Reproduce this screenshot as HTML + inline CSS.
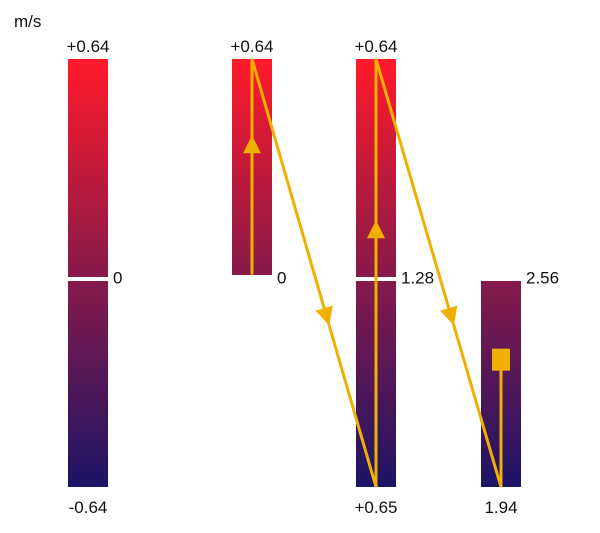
<!DOCTYPE html>
<html><head><meta charset="utf-8"><style>
html,body{margin:0;padding:0;background:#fff;width:600px;height:533px;overflow:hidden}
text{font-family:"Liberation Sans",sans-serif;font-size:17px;fill:#111}
</style></head><body>
<svg id="c" width="600" height="533">
<defs>
<linearGradient id="gTop" x1="0" y1="0" x2="0" y2="1"><stop offset="0" stop-color="#ff1a2a"/><stop offset="1" stop-color="#861a4a"/></linearGradient>
<linearGradient id="gBot" x1="0" y1="0" x2="0" y2="1"><stop offset="0" stop-color="#861a4a"/><stop offset="1" stop-color="#1c1466"/></linearGradient>
</defs>
<text x="14" y="27">m/s</text>
</svg>
<script>
// data
const barX = [88, 252, 376, 501];
const barTopVal = [0.64, 0.64, 0.64, 0];
const barBotVal = [-0.64, 0, -0.64, -0.64];
const topLabels = ["+0.64", "+0.64", "+0.64", ""];
const midLabels = ["0", "0", "1.28", "2.56"];
const botLabels = ["-0.64", "", "+0.65", "1.94"];
const pathBar = [1, 1, 2, 2, 3, 3];
const pathVal = [0.01, 0.64, -0.64, 0.64, -0.64, -0.25];

const svg = document.getElementById('c');
const NS = 'http://www.w3.org/2000/svg';
function y(v){ return v >= 0 ? 278 - v/0.64*219 : 278 - v/0.64*209; }
function mk(t, a){ const e = document.createElementNS(NS, t); for (const k in a) e.setAttribute(k, a[k]); svg.appendChild(e); return e; }
const W = 40;
barX.forEach((cx, i) => {
  const t = barTopVal[i], b = barBotVal[i];
  if (t > 0) {
    const r = mk('rect', {x: cx-W/2, y: y(t), width: W, height: y(0)-y(t) - (b < 0 ? 1 : 3), fill: 'url(#gTop)'});
    
    
  }
  if (b < 0) {
    const r = mk('rect', {x: cx-W/2, y: y(0)+3, width: W, height: y(b)-y(0)-3, fill: 'url(#gBot)'});
    
    
  }
  if (topLabels[i]) {
    const tx = mk('text', {x: cx, y: y(t)-7, 'text-anchor': 'middle'}); tx.textContent = topLabels[i];
    
    
  }
  const m = mk('text', {x: cx+W/2+5, y: y(0)+1, 'dominant-baseline': 'middle'}); m.textContent = midLabels[i];
  
  
  if (botLabels[i]) {
    const bt = mk('text', {x: cx, y: y(b)+26, 'text-anchor': 'middle'}); bt.textContent = botLabels[i];
    
    
  }
});
const C = '#f0b000';
for (let k = 0; k < pathBar.length-1; k++) {
  const x1 = barX[pathBar[k]], y1 = y(pathVal[k]), x2 = barX[pathBar[k+1]], y2 = y(pathVal[k+1]);
  const l = mk('line', {x1, y1, x2, y2, stroke: C, 'stroke-width': 3});
  
  
  if (k < pathBar.length-2) {
    const f = (x1 === x2) ? 0.6 : 0.6;
    const mx = x1 + (x2-x1)*f, my = y1 + (y2-y1)*f;
    const ang = Math.atan2(y2-y1, x2-x1)*180/Math.PI;
    const a = mk('polygon', {points: '10,0 -8,-9 -8,9', fill: C, transform: `translate(${mx},${my}) rotate(${ang})`});
    
    
  }
}
const last = pathBar.length-1;
const sq = mk('rect', {x: barX[pathBar[last]]-9, y: y(pathVal[last])-11, width: 18, height: 22, fill: C});


</script>
</body></html>
